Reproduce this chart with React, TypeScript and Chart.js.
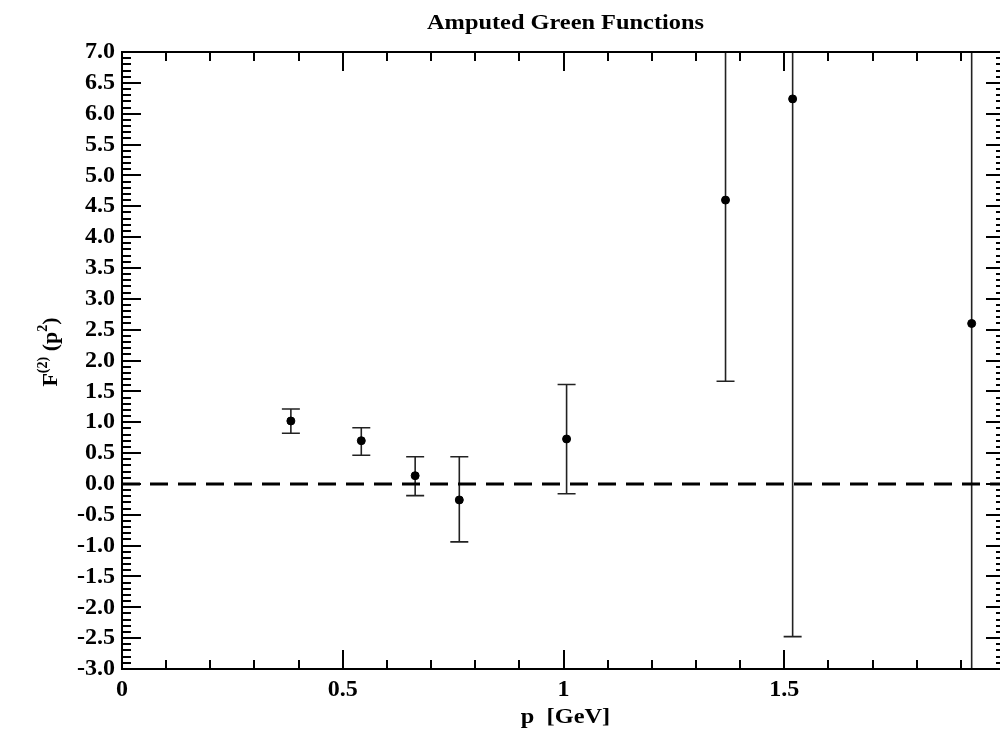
import { useEffect, useRef } from "react";
import { Chart, registerables } from "chart.js";

Chart.register(...registerables);

// ---- data ----
const chartTitle = "Amputed Green Functions";
const xAxisLabel = "p  [GeV]";
const momenta = [0.3825, 0.542, 0.664, 0.764, 1.007, 1.367, 1.519, 1.9245];
const formFactor = [1.02, 0.7, 0.133, -0.26, 0.728, 4.6, 6.24, 2.6];
const errorLow = [0.82, 0.464, -0.19, -0.94, -0.16, 1.663, -2.476, -6.0];
const errorHigh = [1.214, 0.91, 0.44, 0.44, 1.61, 7.54, 14.96, 11.0];
const referenceX = [0, 2];
const referenceY = [0, 0];
const xTickValues = [0, 0.5, 1, 1.5, 2];
const yTickValues = [-3, -2.5, -2, -1.5, -1, -0.5, 0, 0.5, 1, 1.5, 2, 2.5, 3, 3.5, 4, 4.5, 5, 5.5, 6, 6.5, 7];

const SERIF = "'Liberation Serif', 'Times New Roman', 'DejaVu Serif', serif";

const decorPlugin = {
  id: "decor",
  beforeDatasetsDraw(chart: any) {
    const ctx = chart.ctx;
    const { left, right, top, bottom } = chart.chartArea;
    const xs = chart.scales.x;
    const ys = chart.scales.y;
    ctx.save();
    ctx.beginPath();
    ctx.rect(left, top, right - left, bottom - top);
    ctx.clip();
    ctx.strokeStyle = "#222";
    ctx.lineWidth = 1.6;
    const cap = 9;
    for (let i = 0; i < momenta.length; i++) {
      const px = xs.getPixelForValue(momenta[i]);
      const pLo = ys.getPixelForValue(errorLow[i]);
      const pHi = ys.getPixelForValue(errorHigh[i]);
      ctx.beginPath();
      ctx.moveTo(px, pLo);
      ctx.lineTo(px, pHi);
      ctx.moveTo(px - cap, pLo);
      ctx.lineTo(px + cap, pLo);
      ctx.moveTo(px - cap, pHi);
      ctx.lineTo(px + cap, pHi);
      ctx.stroke();
    }
    ctx.restore();
  },
  afterDraw(chart: any) {
    const ctx = chart.ctx;
    const { left, right, top, bottom } = chart.chartArea;
    const xs = chart.scales.x;
    const ys = chart.scales.y;
    ctx.save();
    ctx.strokeStyle = "#000";
    ctx.lineWidth = 2;
    ctx.strokeRect(left, top, right - left, bottom - top);
    ctx.beginPath();
    // x ticks (bottom & top)
    for (let i = 0; i <= 20; i++) {
      const v = i * 0.1;
      const len = i % 5 === 0 ? 19 : 9;
      const px = Math.round(xs.getPixelForValue(v));
      ctx.moveTo(px, bottom);
      ctx.lineTo(px, bottom - len);
      ctx.moveTo(px, top);
      ctx.lineTo(px, top + len);
    }
    // y ticks (left & right)
    for (let i = 0; i <= 100; i++) {
      const v = -3 + i * 0.1;
      const len = i % 5 === 0 ? 19 : 9;
      const py = Math.round(ys.getPixelForValue(v));
      ctx.moveTo(left, py);
      ctx.lineTo(left + len, py);
      ctx.moveTo(right, py);
      ctx.lineTo(right - len, py);
    }
    ctx.stroke();

    ctx.fillStyle = "#000";
    const cx = (left + right) / 2 + 2;
    // title
    ctx.save();
    ctx.translate(cx, 29);
    ctx.scale(1.16, 1);
    ctx.font = `bold 21px ${SERIF}`;
    ctx.textAlign = "center";
    ctx.textBaseline = "alphabetic";
    ctx.fillText(chartTitle, 0, 0);
    ctx.restore();
    // x label
    ctx.save();
    ctx.translate(cx, 723);
    ctx.scale(1.16, 1);
    ctx.font = `bold 21px ${SERIF}`;
    ctx.textAlign = "center";
    ctx.textBaseline = "alphabetic";
    ctx.fillText(xAxisLabel, 0, 0);
    ctx.restore();
    // y label: F^(2)(p^2)
    const parts: [string, number, number][] = [
      ["F", 22, 0],
      ["(2)", 14, -10],
      [" (p", 22, 0],
      ["2", 14, -10],
      [")", 22, 0],
    ];
    ctx.save();
    ctx.translate(57, 352);
    ctx.rotate(-Math.PI / 2);
    ctx.textAlign = "left";
    ctx.textBaseline = "alphabetic";
    let total = 0;
    for (const [t, s] of parts) {
      ctx.font = `bold ${s}px ${SERIF}`;
      total += ctx.measureText(t).width;
    }
    let x = -total / 2;
    for (const [t, s, dy] of parts) {
      ctx.font = `bold ${s}px ${SERIF}`;
      ctx.fillText(t, x, dy);
      x += ctx.measureText(t).width;
    }
    ctx.restore();
    ctx.restore();
  },
};

export default function App() {
  const ref = useRef<HTMLCanvasElement | null>(null);
  useEffect(() => {
    if (!ref.current) return;
    const tickFont = { family: SERIF, weight: "bold" as const, size: 24 };
    const chart = new Chart(ref.current, {
      type: "scatter",
      data: {
        datasets: [
          {
            type: "scatter",
            data: momenta.map((m, i) => ({ x: m, y: formFactor[i] })),
            backgroundColor: "#000",
            borderColor: "#000",
            pointRadius: 4,
            pointHoverRadius: 4,
            pointStyle: "circle",
          },
          {
            type: "line",
            data: referenceX.map((x, i) => ({ x, y: referenceY[i] })),
            borderColor: "#000",
            borderWidth: 3,
            borderDash: [18, 10],
            pointRadius: 0,
            fill: false,
          },
        ],
      },
      options: {
        responsive: false,
        animation: false,
        layout: { padding: { top: 52, right: 5, left: 0, bottom: 0 } },
        plugins: {
          legend: { display: false },
          tooltip: { enabled: false },
          title: { display: false },
        },
        scales: {
          x: {
            type: "linear",
            position: "bottom",
            min: 0,
            max: 2,
            grid: { display: false, drawTicks: false },
            border: { display: false },
            ticks: {
              font: tickFont,
              color: "#000",
              padding: 6,
              maxRotation: 0,
              autoSkip: false,
              callback: (v: any) => String(Number(v)),
            },
            afterBuildTicks: (s: any) => {
              s.ticks = xTickValues.map((v) => ({ value: v }));
            },
            afterFit: (s: any) => {
              s.height = 64;
              s.paddingLeft = 0;
              s.paddingRight = 0;
            },
          },
          y: {
            type: "linear",
            min: -3,
            max: 7,
            grid: { display: false, drawTicks: false },
            border: { display: false },
            ticks: {
              font: tickFont,
              color: "#000",
              padding: 7,
              autoSkip: false,
              callback: (v: any) => Number(v).toFixed(1),
            },
            afterBuildTicks: (s: any) => {
              s.ticks = yTickValues.map((v) => ({ value: v }));
            },
            afterFit: (s: any) => {
              s.width = 122;
              s.paddingTop = 0;
              s.paddingBottom = 0;
            },
          },
        },
      },
      plugins: [decorPlugin],
    });
    return () => chart.destroy();
  }, []);
  return (
    <div
      style={{
        position: "fixed",
        left: 0,
        top: 0,
        width: 1000,
        height: 733,
        overflow: "hidden",
        background: "#fff",
      }}
    >
      <canvas ref={ref} width={1010} height={733} style={{ display: "block" }} />
    </div>
  );
}
